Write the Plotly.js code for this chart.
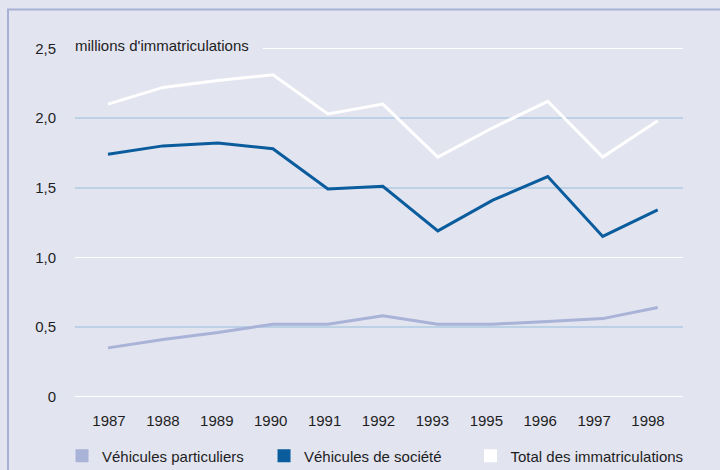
<!DOCTYPE html>
<html>
<head>
<meta charset="utf-8">
<script src="https://cdn.plot.ly/plotly-3.0.1.min.js"></script>
<style>
  html, body { margin: 0; padding: 0; background: #e2e4f0; }
  #chart { width: 720px; height: 470px; }
</style>
</head>
<body>
<div id="chart"></div>
<script>
// ---- data ----
const years = ['1987','1988','1989','1990','1991','1992','1993','1995','1996','1997','1998'];
const particuliers = [0.35,0.41,0.46,0.52,0.52,0.58,0.52,0.52,0.54,0.56,0.64];
const societe      = [1.74,1.80,1.82,1.78,1.49,1.51,1.19,1.41,1.58,1.15,1.34];
const total        = [2.10,2.22,2.27,2.31,2.03,2.10,1.72,1.93,2.12,1.72,1.98];
const seriesNames  = ['Véhicules particuliers','Véhicules de société','Total des immatriculations'];
const yTickVals    = [0, 0.5, 1, 1.5, 2, 2.5];
const yTickText    = ['0','0,5','1,0','1,5','2,0','2,5'];
const yGridBlue    = [0.5, 1.5, 2.0];
const unitLabel    = "millions d'immatriculations";

// ---- styles ----
const BG = '#e2e4f0';
const colors = ['#a9b2d7', '#0a5c9d', '#ffffff'];
const FONT = {family: 'Liberation Sans, Arial, sans-serif', size: 15, color: '#1e1e1e'};
const yRange = [-0.01, 2.51];
const legendIds = ['legend', 'legend2', 'legend3'];
const legendX = [-0.0214, 0.3109, 0.6505];

const series = [particuliers, societe, total];
const traces = [];
// helper (empty) traces so the overlay axes get drawn: blue grid and year labels
[['x2','y'], ['x','y2']].forEach(([xa, ya]) => {
  traces.push({x: [null], y: [null], type: 'scatter', mode: 'lines',
    xaxis: xa, yaxis: ya, showlegend: false, hoverinfo: 'skip'});
});
series.forEach((vals, i) => {
  traces.push({
    x: years, y: vals, type: 'scatter', mode: 'lines',
    line: {color: colors[i], width: 3}, name: seriesNames[i],
    showlegend: false, hoverinfo: 'skip', xaxis: 'x', yaxis: 'y'
  });
});
seriesNames.forEach((nm, i) => {
  traces.push({
    x: [null], y: [null], type: 'scatter', mode: 'markers',
    marker: {symbol: 'square', size: 13, color: colors[i], line: {width: 0}},
    name: nm, showlegend: true, legend: legendIds[i], xaxis: 'x', yaxis: 'y'
  });
});

const layout = {
  width: 720, height: 470,
  margin: {l: 75, r: 37, t: 47, b: 72, autoexpand: false},
  paper_bgcolor: BG, plot_bgcolor: BG,
  font: FONT,
  showlegend: true,
  xaxis: {
    type: 'category', range: [-0.6, 10.46], showgrid: false, zeroline: false,
    showticklabels: false, ticks: '', showline: false, fixedrange: true
  },
  xaxis2: {
    type: 'linear', overlaying: 'x', anchor: 'y', side: 'bottom',
    range: [-0.631, 10.649], tickmode: 'array',
    tickvals: years.map((_, i) => i), ticktext: years,
    showgrid: false, zeroline: false, showline: false, ticks: '',
    ticklabelstandoff: 12, tickfont: FONT
  },
  yaxis: {
    range: yRange, tickmode: 'array', tickvals: yTickVals, ticktext: yTickText,
    showgrid: true, gridcolor: '#ffffff', gridwidth: 1,
    zeroline: false, showline: false, ticks: '',
    ticklabelstandoff: 18, tickfont: FONT
  },
  yaxis2: {
    range: yRange, overlaying: 'y', anchor: 'x', side: 'left',
    tickmode: 'array', tickvals: yGridBlue, showticklabels: false,
    showgrid: true, gridcolor: '#bcd0e6', gridwidth: 2, zeroline: false, showline: false, ticks: ''
  },
  annotations: [{
    text: unitLabel, xref: 'paper', x: 0, xanchor: 'left', xshift: -14,
    yref: 'y', y: 2.5, yanchor: 'middle', yshift: 3,
    showarrow: false, font: FONT, bgcolor: BG, borderpad: 14, borderwidth: 0
  }],
  shapes: [{
    type: 'rect', xref: 'paper', yref: 'paper',
    x0: -0.1102, x1: 1.2, y0: -0.4, y1: 1.1068,
    line: {color: '#a8b0d6', width: 2}, fillcolor: 'rgba(0,0,0,0)', layer: 'above'
  }]
};
legendIds.forEach((id, i) => {
  layout[id] = {
    orientation: 'h', x: legendX[i], xanchor: 'left', y: -0.165, yanchor: 'middle',
    font: FONT, bgcolor: 'rgba(0,0,0,0)', borderwidth: 0
  };
});

Plotly.newPlot('chart', traces, layout, {staticPlot: true, displayModeBar: false});
</script>
</body>
</html>
